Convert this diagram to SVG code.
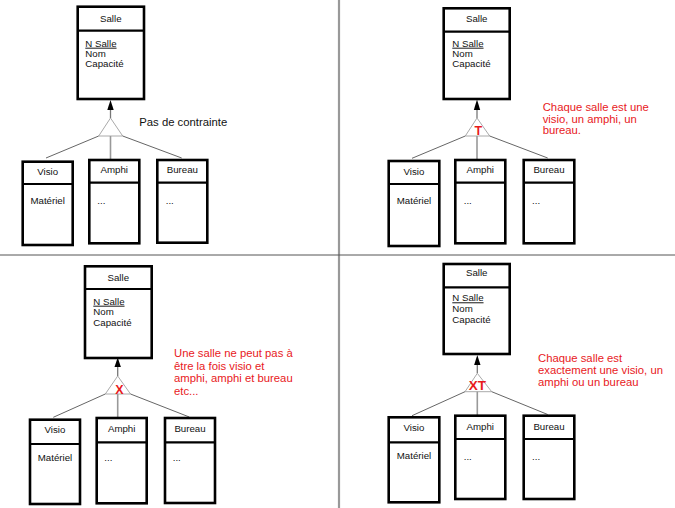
<svg xmlns="http://www.w3.org/2000/svg" width="675" height="508" viewBox="0 0 675 508">
  <style>
    text { font-family: "Liberation Sans", Arial, sans-serif; fill: #111; }
    .box { fill: #fff; stroke: #000; stroke-width: 2.6; }
    .sep { stroke: #000; stroke-width: 2.2; }
    .t { font-size: 9.7px; text-anchor: middle; }
    .a { font-size: 9.7px; }
    .pk { text-decoration: underline; }
    .note { font-size: 11.3px; }
    .red { fill: #e8191c; }
    .mark { font-weight: bold; text-anchor: middle; fill: #e8191c; }
    .link { stroke: #666; stroke-width: 1; fill: none; }
    .stem { stroke: #999; stroke-width: 1.6; fill: none; }
    .up { stroke: #777; stroke-width: 1.3; fill: none; }
    .tri { fill: #fff; stroke: #aaa; stroke-width: 1; }
    .head { fill: #000; }
    .frame-v { stroke: #999; stroke-width: 2.2; }
    .frame-h { stroke: #555; stroke-width: 1; }
  </style>

  <rect width="675" height="508" fill="#fff"/>

  <!-- panel separators -->
  <line class="frame-v" x1="339" y1="0" x2="339" y2="508"/>
  <line class="frame-h" x1="0" y1="255" x2="675" y2="255"/>

  <!-- ===== Panel 1 : no constraint ===== -->
  <g id="connectors-1">
    <line class="up" x1="110.5" y1="118" x2="110.5" y2="109"/>
    <polygon class="head" points="110.5,100 107.3,110 113.7,110"/>
    <polygon class="tri" points="110.5,118 98.7,136 122.7,136"/>
    <line class="link" x1="98.7" y1="136" x2="46" y2="158"/>
    <line class="stem" x1="110.5" y1="136" x2="110.5" y2="160"/>
    <line class="link" x1="122.7" y1="136" x2="181.7" y2="158"/>
  </g>
  <g id="salle-1">
    <rect class="box" x="77.7" y="6.7" width="66.3" height="92.3"/>
    <line class="sep" x1="77.7" y1="30.7" x2="144" y2="30.7"/>
    <text class="t" x="110.8" y="21.5">Salle</text>
    <text class="a pk" x="85.3" y="46.7">N Salle</text>
    <text class="a" x="85.3" y="57">Nom</text>
    <text class="a" x="85.3" y="67.3">Capacité</text>
  </g>
  <g id="visio-1">
    <rect class="box" x="22.7" y="161.7" width="50" height="83.3"/>
    <line class="sep" x1="22.7" y1="184" x2="72.7" y2="184"/>
    <text class="t" x="47.7" y="175">Visio</text>
    <text class="t" x="47.7" y="204">Matériel</text>
  </g>
  <g id="amphi-1">
    <rect class="box" x="89.3" y="160" width="50" height="83.3"/>
    <line class="sep" x1="89.3" y1="182.7" x2="139.3" y2="182.7"/>
    <text class="t" x="114.3" y="172.5">Amphi</text>
    <text class="a" x="97.3" y="204">...</text>
  </g>
  <g id="bureau-1">
    <rect class="box" x="157.3" y="160" width="50" height="82.7"/>
    <line class="sep" x1="157.3" y1="182.7" x2="207.3" y2="182.7"/>
    <text class="t" x="182.3" y="172.5">Bureau</text>
    <text class="a" x="165.7" y="204">...</text>
  </g>
  <g id="note-1">
    <text class="note" x="139.3" y="125.5">Pas de contrainte</text>
  </g>

  <!-- ===== Panel 2 : total (T) ===== -->
  <g id="connectors-2">
    <line class="up" x1="477" y1="118" x2="477" y2="109"/>
    <polygon class="head" points="477,99.5 473.8,110 480.2,110"/>
    <polygon class="tri" points="477,118 465.3,136 489.7,136"/>
    <line class="link" x1="465.3" y1="136" x2="412" y2="158.3"/>
    <line class="stem" x1="477" y1="136" x2="477" y2="160"/>
    <line class="link" x1="489.7" y1="136" x2="547.7" y2="158"/>
    <text class="mark" x="478.3" y="135" font-size="12.5">T</text>
  </g>
  <g id="salle-2">
    <rect class="box" x="443.7" y="8.3" width="66" height="90.7"/>
    <line class="sep" x1="443.7" y1="31.7" x2="509.7" y2="31.7"/>
    <text class="t" x="476.7" y="22.3">Salle</text>
    <text class="a pk" x="452.3" y="46.7">N Salle</text>
    <text class="a" x="452.3" y="57">Nom</text>
    <text class="a" x="452.3" y="67.3">Capacité</text>
  </g>
  <g id="visio-2">
    <rect class="box" x="388.7" y="161" width="50.6" height="85"/>
    <line class="sep" x1="388.7" y1="184" x2="439.3" y2="184"/>
    <text class="t" x="414" y="175">Visio</text>
    <text class="t" x="414" y="203.5">Matériel</text>
  </g>
  <g id="amphi-2">
    <rect class="box" x="455.3" y="160" width="50" height="83.3"/>
    <line class="sep" x1="455.3" y1="182.7" x2="505.3" y2="182.7"/>
    <text class="t" x="480.3" y="172.5">Amphi</text>
    <text class="a" x="463.7" y="204">...</text>
  </g>
  <g id="bureau-2">
    <rect class="box" x="523.7" y="160" width="50.6" height="83.3"/>
    <line class="sep" x1="523.7" y1="182.7" x2="574.3" y2="182.7"/>
    <text class="t" x="549" y="172.5">Bureau</text>
    <text class="a" x="532" y="204">...</text>
  </g>
  <g id="note-2">
    <text class="note red" x="542.7" y="111">Chaque salle est une</text>
    <text class="note red" x="542.7" y="122.7">visio, un amphi, un</text>
    <text class="note red" x="542.7" y="134.4">bureau.</text>
  </g>

  <!-- ===== Panel 3 : exclusive (X) ===== -->
  <g id="connectors-3">
    <line class="up" x1="117.7" y1="376" x2="117.7" y2="366"/>
    <polygon class="head" points="117.7,357.5 114.5,367 120.9,367"/>
    <polygon class="tri" points="117.7,376 105.3,394 130.5,394"/>
    <line class="link" x1="105.3" y1="394" x2="53.3" y2="417.3"/>
    <line class="stem" x1="117.7" y1="394" x2="117.7" y2="418"/>
    <line class="link" x1="130.5" y1="394" x2="189.3" y2="417"/>
    <text class="mark" x="119.3" y="393.5" font-size="12.5">X</text>
  </g>
  <g id="salle-3">
    <rect class="box" x="85" y="266.3" width="66.7" height="91.7"/>
    <line class="sep" x1="85" y1="289" x2="151.7" y2="289"/>
    <text class="t" x="118.3" y="280.5">Salle</text>
    <text class="a pk" x="93.3" y="304.7">N Salle</text>
    <text class="a" x="93.3" y="315">Nom</text>
    <text class="a" x="93.3" y="325.7">Capacité</text>
  </g>
  <g id="visio-3">
    <rect class="box" x="30" y="419.7" width="50" height="84.3"/>
    <line class="sep" x1="30" y1="444" x2="80" y2="444"/>
    <text class="t" x="55" y="432.5">Visio</text>
    <text class="t" x="55" y="461">Matériel</text>
  </g>
  <g id="amphi-3">
    <rect class="box" x="96.7" y="418" width="50" height="85.3"/>
    <line class="sep" x1="96.7" y1="442.3" x2="146.7" y2="442.3"/>
    <text class="t" x="121.7" y="431.5">Amphi</text>
    <text class="a" x="104.3" y="461">...</text>
  </g>
  <g id="bureau-3">
    <rect class="box" x="165" y="418" width="50" height="85"/>
    <line class="sep" x1="165" y1="442.3" x2="215" y2="442.3"/>
    <text class="t" x="190" y="431.5">Bureau</text>
    <text class="a" x="172.7" y="461">...</text>
  </g>
  <g id="note-3">
    <text class="note red" x="174" y="357.3">Une salle ne peut pas à</text>
    <text class="note red" x="174" y="369.7">être la fois visio et</text>
    <text class="note red" x="174" y="382.1">amphi, amphi et bureau</text>
    <text class="note red" x="174" y="394.5">etc...</text>
  </g>

  <!-- ===== Panel 4 : partition (XT) ===== -->
  <g id="connectors-4">
    <line class="up" x1="477.3" y1="373.3" x2="477.3" y2="364"/>
    <polygon class="head" points="477.3,355 474.1,365 480.5,365"/>
    <polygon class="tri" points="477.3,373.3 465,391.7 491.7,391.7"/>
    <line class="link" x1="465" y1="391.7" x2="412" y2="415.7"/>
    <line class="stem" x1="477.3" y1="391.7" x2="477.3" y2="415.7"/>
    <line class="link" x1="491.7" y1="391.7" x2="547.7" y2="414.5"/>
    <text class="mark" x="477.3" y="390" font-size="13.5">XT</text>
  </g>
  <g id="salle-4">
    <rect class="box" x="443.7" y="264" width="66" height="90"/>
    <line class="sep" x1="443.7" y1="287.3" x2="509.7" y2="287.3"/>
    <text class="t" x="476.7" y="276.3">Salle</text>
    <text class="a pk" x="452.3" y="301.3">N Salle</text>
    <text class="a" x="452.3" y="311.7">Nom</text>
    <text class="a" x="452.3" y="322.7">Capacité</text>
  </g>
  <g id="visio-4">
    <rect class="box" x="388.7" y="417.3" width="50.6" height="85"/>
    <line class="sep" x1="388.7" y1="442.3" x2="439.3" y2="442.3"/>
    <text class="t" x="414" y="430.5">Visio</text>
    <text class="t" x="414" y="458.5">Matériel</text>
  </g>
  <g id="amphi-4">
    <rect class="box" x="455.3" y="415.7" width="50" height="83.3"/>
    <line class="sep" x1="455.3" y1="439" x2="505.3" y2="439"/>
    <text class="t" x="480.3" y="429.5">Amphi</text>
    <text class="a" x="463.7" y="459.5">...</text>
  </g>
  <g id="bureau-4">
    <rect class="box" x="523.7" y="415.7" width="50.6" height="83.3"/>
    <line class="sep" x1="523.7" y1="439" x2="574.3" y2="439"/>
    <text class="t" x="549" y="429.5">Bureau</text>
    <text class="a" x="532" y="459.5">...</text>
  </g>
  <g id="note-4">
    <text class="note red" x="538" y="361.7">Chaque salle est</text>
    <text class="note red" x="538" y="373.9">exactement une visio, un</text>
    <text class="note red" x="538" y="386.1">amphi ou un bureau</text>
  </g>
</svg>
